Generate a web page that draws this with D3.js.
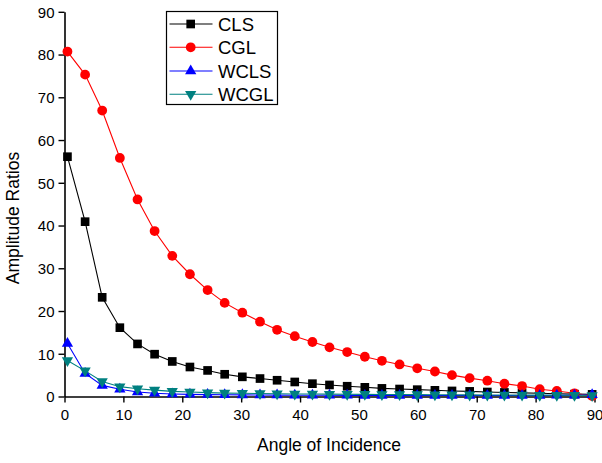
<!DOCTYPE html>
<html lang="en">
<head>
	<meta charset="UTF-8">
	<title>Amplitude Ratios</title>
	<script src="https://d3js.org/d3.v7.min.js"></script>
	<style>
		body { margin: 0; background: #fff; }
		text { font-family: "Liberation Sans", Arial, sans-serif; }
	</style>
</head>
<body>
	<div id="main"></div>
<script>
	// angles of incidence (deg)
	var angles = [0.5, 3.5, 6.4, 9.4, 12.4, 15.3, 18.3, 21.3, 24.3, 27.2, 30.2, 33.2, 36.1, 39.1, 42.1, 45.0,
		48.0, 51.0, 53.9, 56.9, 59.9, 62.9, 65.8, 68.8, 71.8, 74.7, 77.7, 80.7, 83.6, 86.6, 89.6];

	var cls = [56.1, 40.9, 23.2, 16.1, 12.3, 9.9, 8.2, 6.9, 6.1, 5.2, 4.6, 4.2, 3.8, 3.4, 3.0, 2.7,
		2.4, 2.15, 1.9, 1.75, 1.6, 1.45, 1.3, 1.2, 1.05, 0.95, 0.85, 0.75, 0.65, 0.55, 0.5];
	var cgl = [80.7, 75.3, 66.9, 55.8, 46.1, 38.7, 32.9, 28.6, 24.9, 21.9, 19.6, 17.5, 15.6, 14.1, 12.75, 11.5,
		10.4, 9.3, 8.35, 7.5, 6.6, 5.85, 5.0, 4.3, 3.7, 3.0, 2.45, 1.7, 1.3, 0.75, 0.1];
	var wcls = [12.4, 5.4, 2.6, 1.7, 1.05, 0.75, 0.6, 0.5, 0.45, 0.4, 0.38, 0.35, 0.33, 0.3, 0.3, 0.28,
		0.27, 0.26, 0.25, 0.25, 0.24, 0.24, 0.23, 0.23, 0.23, 0.23, 0.24, 0.25, 0.27, 0.3, 0.4];
	var wcgl = [8.4, 6.0, 3.5, 2.3, 1.8, 1.5, 1.2, 1.05, 0.9, 0.8, 0.75, 0.7, 0.65, 0.6, 0.58, 0.55,
		0.52, 0.5, 0.48, 0.46, 0.44, 0.42, 0.4, 0.38, 0.36, 0.35, 0.33, 0.32, 0.3, 0.28, 0.26];

	var xTicks = [0, 10, 20, 30, 40, 50, 60, 70, 80, 90];
	var yTicks = [0, 10, 20, 30, 40, 50, 60, 70, 80, 90];

	var series = [
		{name: "CLS", values: cls, color: "#000000", symbol: d3.symbolSquare, size: 75, rot: 0},
		{name: "CGL", values: cgl, color: "#ff0000", symbol: d3.symbolCircle, size: 75, rot: 0},
		{name: "WCLS", values: wcls, color: "#0000ff", symbol: d3.symbolTriangle, size: 55, rot: 0},
		{name: "WCGL", values: wcgl, color: "#008080", symbol: d3.symbolTriangle, size: 55, rot: 180}
	];

	var width = 602, height = 463;

	var svg = d3.select("#main")
		.append("svg")
		.attr("width", width)
		.attr("height", height);

	var x = d3.scaleLinear().domain([0, 90]).range([64.5, 594.5]);
	var y = d3.scaleLinear().domain([0, 90]).range([396.5, 11.8]);

	//axes
	var xAxis = svg.append("g")
		.attr("transform", "translate(0," + y(0) + ")")
		.call(d3.axisBottom(x).tickValues(xTicks).tickSize(6).tickPadding(5).tickSizeOuter(0));
	var yAxis = svg.append("g")
		.attr("transform", "translate(" + x(0) + ",0)")
		.call(d3.axisLeft(y).tickValues(yTicks).tickSize(6).tickPadding(4).tickSizeOuter(0));

	[xAxis, yAxis].forEach(function(a){
		a.select(".domain").attr("stroke-width", 1.6);
		a.selectAll(".tick line").attr("stroke-width", 1.4);
		a.selectAll(".tick text")
			.attr("font-family", "Liberation Sans, Arial, sans-serif")
			.attr("font-size", 15)
			.attr("fill", "#000");
	});
	xAxis.selectAll(".tick text").attr("dy", "0.85em");
	yAxis.selectAll(".tick text").attr("dy", "0.36em");

	//axis titles
	svg.append("text")
		.attr("x", 329)
		.attr("y", 451)
		.attr("text-anchor", "middle")
		.attr("font-size", 17.5)
		.text("Angle of Incidence");
	svg.append("text")
		.attr("transform", "translate(19,218) rotate(-90)")
		.attr("text-anchor", "middle")
		.attr("font-size", 17.5)
		.text("Amplitude Ratios");

	var line = d3.line()
		.x(function(d, i){ return x(angles[i]); })
		.y(function(d){ return y(d); });

	var plot = svg.append("g");

	series.forEach(function(s){
		plot.append("path")
			.datum(s.values)
			.attr("fill", "none")
			.attr("stroke", s.color)
			.attr("stroke-width", 1.1)
			.attr("d", line);
	});

	series.forEach(function(s){
		var sym = d3.symbol().type(s.symbol).size(s.size);
		plot.selectAll(null)
			.data(s.values)
			.enter()
			.append("path")
			.attr("d", sym)
			.attr("fill", s.color)
			.attr("transform", function(d, i){
				return "translate(" + x(angles[i]) + "," + y(d) + ") rotate(" + s.rot + ")";
			});
	});

	//legend
	var legend = svg.append("g");
	legend.append("rect")
		.attr("x", 166.5)
		.attr("y", 11.5)
		.attr("width", 111)
		.attr("height", 93)
		.attr("fill", "#fff")
		.attr("stroke", "#000")
		.attr("stroke-width", 1.2);

	var rowY = [24, 47.3, 71, 94.3];
	series.forEach(function(s, i){
		legend.append("line")
			.attr("x1", 169.5).attr("x2", 212.5)
			.attr("y1", rowY[i]).attr("y2", rowY[i])
			.attr("stroke", s.color)
			.attr("stroke-width", 1.1);
		legend.append("path")
			.attr("d", d3.symbol().type(s.symbol).size(s.size)())
			.attr("fill", s.color)
			.attr("transform", "translate(190.7," + rowY[i] + ") rotate(" + s.rot + ")");
		legend.append("text")
			.attr("x", 218)
			.attr("y", rowY[i] + 6.5)
			.attr("font-size", 18.5)
			.text(s.name);
	});
</script>
</body>
</html>
